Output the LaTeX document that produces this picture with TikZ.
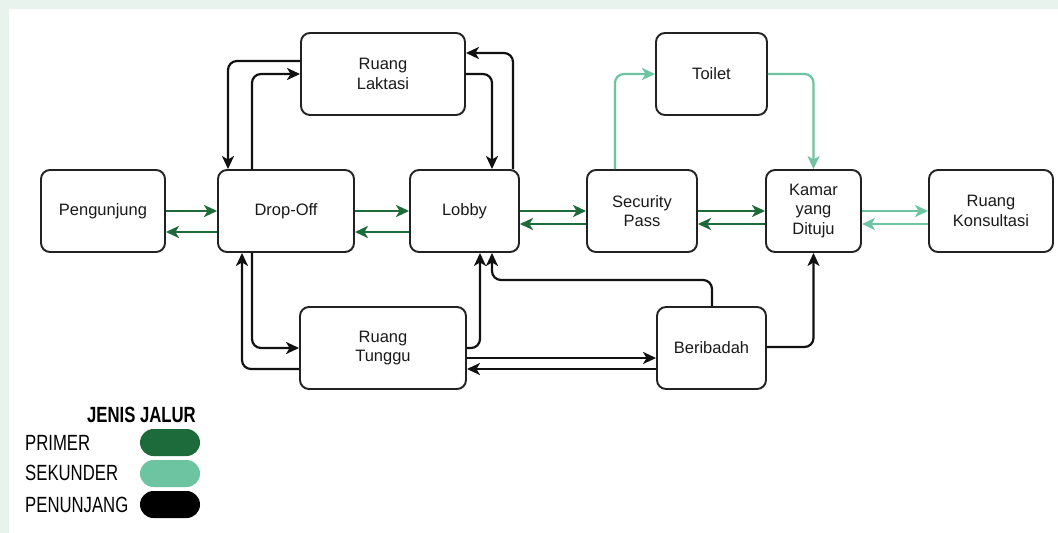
\documentclass[tikz,border=0pt]{standalone}
\usepackage{fontspec}
\setmainfont{Liberation Sans}
\newfontfamily\narrowfont[FakeStretch=0.76]{Liberation Sans}
\usetikzlibrary{arrows.meta}
\definecolor{prim}{HTML}{1D6B3B}
\definecolor{seku}{HTML}{6CC4A0}
\definecolor{ink}{HTML}{111111}
\definecolor{boxline}{HTML}{222222}
\definecolor{textc}{HTML}{1A1A1A}
\definecolor{tint}{HTML}{E9F3ED}
\newcommand\boxfont{\fontsize{16.5}{19.5}\selectfont}
\newcommand\legfont{\narrowfont\fontsize{22}{24}\selectfont}
\tikzset{
  box/.style={draw=boxline, line width=1.9pt, rounded corners=9pt, fill=white,
    align=center, font=\boxfont, text=textc, inner sep=2pt, minimum height=82pt},
  pen/.style={line width=2.2pt, draw=ink, rounded corners=9pt,
    -{Stealth[length=13pt,width=12pt,inset=3.5pt]}},
  primpen/.style={pen, draw=prim},
  sekpen/.style={pen, draw=seku},
  legtext/.style={font=\legfont, text=black, inner sep=0pt},
  pill/.style={minimum width=60pt, minimum height=27pt, rounded corners=13.5pt, inner sep=0pt}
}
\begin{document}
\begin{tikzpicture}[x=1pt,y=-1pt]
% page and background
\useasboundingbox (0,0) rectangle (1058,533);
\fill[tint] (0,0) rectangle (1058,533);
\fill[white] (9,9) rectangle (1058,533);

% rooms
\node[box, minimum width=124pt] (pj)  at (103,211)   {Pengunjung};
\node[box, minimum width=136pt] (do)  at (286,211)   {Drop-Off};
\node[box, minimum width=109pt] (lob) at (464.5,211) {Lobby};
\node[box, minimum width=110pt] (sec) at (642,211)   {Security\\Pass};
\node[box, minimum width=95pt]  (kam) at (813.5,211) {Kamar\\yang\\Dituju};
\node[box, minimum width=124pt] (kon) at (991,211)   {Ruang\\Konsultasi};
\node[box, minimum width=164pt] (lak) at (383,74)    {Ruang\\Laktasi};
\node[box, minimum width=111pt] (toi) at (711.5,74)  {Toilet};
\node[box, minimum width=166pt] (tun) at (383,348)   {Ruang\\Tunggu};
\node[box, minimum width=109pt] (ber) at (711.5,348) {Beribadah};

% helper rows and columns for routing
\coordinate (h53)  at (0,53);
\coordinate (h61)  at (0,61);
\coordinate (h74)  at (0,74);
\coordinate (h211) at (0,211);
\coordinate (h224) at (0,224);
\coordinate (h232) at (0,232);
\coordinate (h280) at (0,280);
\coordinate (h347) at (0,347);
\coordinate (h348) at (0,348);
\coordinate (h358) at (0,358);
\coordinate (h369) at (0,369);
\coordinate (v228) at (228,0);
\coordinate (v242) at (242,0);
\coordinate (v252) at (252,0);
\coordinate (v480) at (480,0);
\coordinate (v492) at (492,0);
\coordinate (v513) at (513,0);
\coordinate (v615) at (615,0);
\coordinate (v712) at (712,0);
\coordinate (v813) at (813.5,0);

% primary route
\draw[primpen] (pj.east |- h211) -- (do.west |- h211);
\draw[primpen] (do.west |- h232) -- (pj.east |- h232);
\draw[primpen] (do.east |- h211) -- (lob.west |- h211);
\draw[primpen] (lob.west |- h232) -- (do.east |- h232);
\draw[primpen] (lob.east |- h211) -- (sec.west |- h211);
\draw[primpen] (sec.west |- h224) -- (lob.east |- h224);
\draw[primpen] (sec.east |- h211) -- (kam.west |- h211);
\draw[primpen] (kam.west |- h224) -- (sec.east |- h224);

% secondary route
\draw[sekpen] (kam.east |- h211) -- (kon.west |- h211);
\draw[sekpen] (kon.west |- h224) -- (kam.east |- h224);
\draw[sekpen] (sec.north -| v615) |- (toi.west |- h74);
\draw[sekpen] (toi.east |- h74) -| (kam.north -| v813);

% supporting route
\draw[pen] (lak.west |- h61) -| (do.north -| v228);
\draw[pen] (do.north -| v252) |- (lak.west |- h74);
\draw[pen] (lak.east |- h74) -| (lob.north -| v492);
\draw[pen] (lob.north -| v513) |- (lak.east |- h53);
\draw[pen] (tun.west |- h369) -| (do.south -| v242);
\draw[pen] (do.south -| v252) |- (tun.west |- h348);
\draw[pen] (tun.east |- h348) -| (lob.south -| v480);
\draw[pen] (ber.north -| v712) |- (v492 |- h280) -- (lob.south -| v492);
\draw[pen] (tun.east |- h358) -- (ber.west |- h358);
\draw[pen] (ber.west |- h369) -- (tun.east |- h369);
\draw[pen] (ber.east |- h347) -| (kam.south -| v813);

% legend
\node[legtext, anchor=east, font=\legfont\bfseries] (lgt) at (196,415) {JENIS JALUR};
\node[legtext, anchor=west] (lp) at (25,443) {PRIMER};
\node[legtext, anchor=west] (ls) at (25,473) {SEKUNDER};
\node[legtext, anchor=west] (ln) at (25,505) {PENUNJANG};
\node[pill, fill=prim]  (pp) at (170,442.5) {};
\node[pill, fill=seku]  (ps) at (170,473.5) {};
\node[pill, fill=black] (pn) at (170,504.5) {};
\end{tikzpicture}
\end{document}
